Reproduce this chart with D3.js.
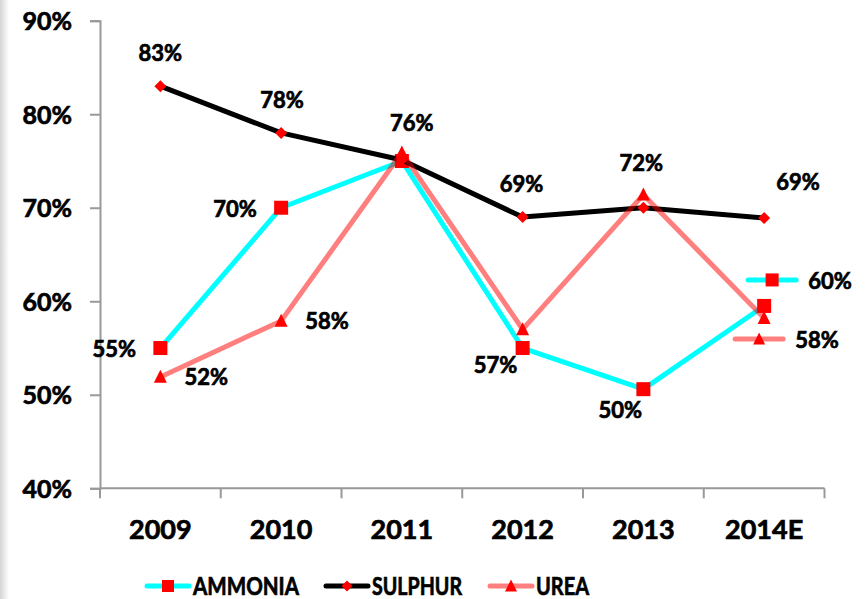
<!DOCTYPE html>
<html><head><meta charset="utf-8">
<script src="https://cdn.jsdelivr.net/npm/d3@7/dist/d3.min.js"></script>
<style>body{margin:0;background:#fff}svg{display:block}text{font-family:Lato,"Open Sans",sans-serif;font-weight:bold;fill:#000;stroke:#000;stroke-width:0.7px}</style>
</head><body><svg id="c" width="867" height="599"></svg>
<script>
const categories = ["2009","2010","2011","2012","2013","2014E"];
const yTicks = [40,50,60,70,80,90];
const ammonia = [55, 70, 75, 55, 50.6, 59.5];
const sulphur = [83, 78, 75.1, 69, 70, 68.9];
const urea    = [51.9, 57.9, 75.9, 57, 71.4, 58.2];
const ammoniaLabels = ["55%","70%",null,null,"50%","60%"];
const sulphurLabels = ["83%","78%",null,"69%",null,"69%"];
const ureaLabels    = ["52%","58%","76%","57%","72%","58%"];
const seriesNames = ["AMMONIA","SULPHUR","UREA"];

// label placement (layout only)
const ammoniaOff = [[-46,1],[-46,1],null,null,[-23,21],[66,-25]];
const sulphurOff = [[0,-33],[1,-33],null,[-1,-33],null,[34,-36]];
const ureaOff    = [[46,0],[46,0],[10,-29],[-27,36],[-2,-32],[53,22]];
const legendLayout = [{x:168, w:106},{x:347, w:90},{x:511, w:53}];

const svg = d3.select("#c");
const defs = svg.append("defs");
const g = defs.append("linearGradient").attr("id","shade").attr("x1",0).attr("x2",1);
g.append("stop").attr("offset",0).attr("stop-color","#d4d4d4");
g.append("stop").attr("offset",1).attr("stop-color","#fff");
svg.append("rect").attr("x",0).attr("y",0).attr("width",9).attr("height",599).attr("fill","url(#shade)");

const x = d3.scaleBand().domain(categories).range([100, 824.5]).padding(0);
const y = d3.scaleLinear().domain([40,90]).range([488.3, 20.7]);
const cx = c => x(c) + x.bandwidth()/2;
const axisColor = "#999";

// y axis
const ya = svg.append("g").attr("transform","translate(100,0)")
  .call(d3.axisLeft(y).tickValues(yTicks).tickSize(10).tickPadding(18).tickFormat(d=>d+"%"));
ya.select(".domain").attr("stroke",axisColor).attr("stroke-width",2);
ya.selectAll(".tick line").attr("stroke",axisColor).attr("stroke-width",2);
ya.selectAll(".tick text").attr("font-size",25).attr("font-family","Lato").attr("font-weight","bold").attr("dy","0.36em");

// x axis
const xa = svg.append("g").attr("transform",`translate(0,${y(40)})`);
xa.append("line").attr("x1",x.range()[0]).attr("x2",x.range()[1]).attr("y1",0).attr("y2",0)
  .attr("stroke",axisColor).attr("stroke-width",2);
const bounds = categories.map(c=>x(c)).concat([x.range()[1]]);
xa.selectAll("line.tk").data(bounds).join("line").attr("class","tk")
  .attr("x1",d=>d).attr("x2",d=>d).attr("y1",0).attr("y2",10).attr("stroke",axisColor).attr("stroke-width",2);
xa.selectAll("text").data(categories).join("text")
  .attr("x",d=>cx(d)).attr("y",51).attr("text-anchor","middle").attr("font-size",27).text(d=>d);

const line = d3.line().x((d,i)=>cx(categories[i])).y(d=>y(d));
const colors = {AMMONIA:"#00ffff", SULPHUR:"#000000", UREA:"rgba(255,0,0,0.5)"};

function marker(sel, type, size) {
  if (type==="square") {
    sel.append("rect").attr("x",-size/2).attr("y",-size/2).attr("width",size).attr("height",size).attr("fill","#ff0000");
  } else if (type==="diamond") {
    const h=size/2;
    sel.append("path").attr("d",`M0,${-h}L${h},0L0,${h}L${-h},0Z`).attr("fill","#ff0000");
  } else {
    const h=size;
    sel.append("path").attr("d",`M0,${-h*0.55}L${h*0.5},${h*0.45}L${-h*0.5},${h*0.45}Z`).attr("fill","#ff0000");
  }
}

const series = [
  {name:"AMMONIA", vals:ammonia, type:"square", size:14, labels:ammoniaLabels, off:ammoniaOff},
  {name:"SULPHUR", vals:sulphur, type:"diamond", size:12, labels:sulphurLabels, off:sulphurOff},
  {name:"UREA", vals:urea, type:"triangle", size:13, labels:ureaLabels, off:ureaOff}
];

series.forEach(s=>{
  svg.append("path").datum(s.vals).attr("d",line).attr("fill","none")
    .attr("stroke",colors[s.name]).attr("stroke-width",5).attr("stroke-linejoin","round").attr("stroke-linecap","round");
  s.vals.forEach((v,i)=>{
    const m = svg.append("g").attr("transform",`translate(${cx(categories[i])},${y(v)})`);
    marker(m, s.type, s.size);
  });
});

// data labels
series.forEach(s=>{
  s.labels.forEach((t,i)=>{
    if(!t) return;
    const px = cx(categories[i])+s.off[i][0], py = y(s.vals[i])+s.off[i][1];
    svg.append("text").attr("x",px).attr("y",py).attr("dy","0.36em").attr("text-anchor","middle")
      .attr("font-size",22).text(t);
    if (i===categories.length-1 && s.name!=="SULPHUR") {
      const kx = px-58;
      svg.append("line").attr("x1",kx-24).attr("x2",kx+24).attr("y1",py-1).attr("y2",py-1)
        .attr("stroke",colors[s.name]).attr("stroke-width",5).attr("stroke-linecap","round");
      const m = svg.append("g").attr("transform",`translate(${kx},${py-1})`);
      marker(m, s.type, s.type==="square"?13:12);
    }
  });
});

// legend
seriesNames.forEach((n,i)=>{
  const s = series[i], L = legendLayout[i];
  const lg = svg.append("g").attr("transform",`translate(${L.x},586)`);
  lg.append("line").attr("x1",-21).attr("x2",21).attr("y1",0).attr("y2",0)
    .attr("stroke",colors[n]).attr("stroke-width",5).attr("stroke-linecap","round");
  marker(lg, s.type, s.type==="square"?12:(s.type==="diamond"?11:12));
  lg.append("text").attr("x",25).attr("y",0).attr("dy","0.36em").attr("font-size",25)
    .attr("textLength",L.w).attr("lengthAdjust","spacingAndGlyphs").text(n);
});
</script></body></html>
